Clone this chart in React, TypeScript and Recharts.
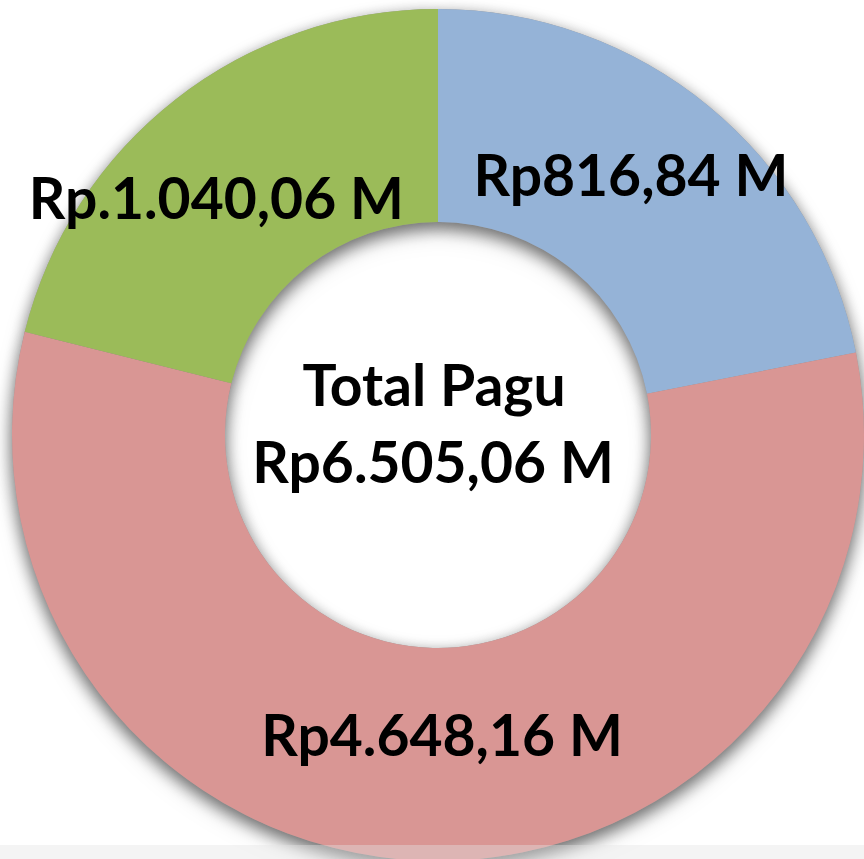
import React from 'react';
import { PieChart, Pie, Cell } from 'recharts';

const segments = ['Biru', 'Merah', 'Hijau'];
const shares = [21.9, 57.0, 21.1];
const valueLabels = ['Rp816,84 M', 'Rp4.648,16 M', 'Rp.1.040,06 M'];
const colors = ['#95b3d7', '#d99694', '#9bbb59'];
const centerLines = ['Total Pagu', 'Rp6.505,06 M'];

const data = segments.map((name, i) => ({ name, value: shares[i] }));

// small nudges so labels sit where the original put them
const nudge = [
  [-10, -14],
  [12, -20],
  [-25, 14],
];

const RADIAN = Math.PI / 180;
const FONT = 'Lato, "Open Sans", sans-serif';

const renderLabel = (props: any) => {
  const { cx, cy, midAngle, innerRadius, outerRadius, index } = props;
  const r = (innerRadius + outerRadius) / 2;
  const x = cx + r * Math.cos(-midAngle * RADIAN) + nudge[index][0];
  const y = cy + r * Math.sin(-midAngle * RADIAN) + nudge[index][1];
  return (
    <text
      x={x}
      y={y}
      textAnchor="middle"
      dominantBaseline="central"
      fontFamily={FONT}
      fontWeight={700}
      fontSize={57}
      fill="#000"
    >
      {valueLabels[index]}
    </text>
  );
};

export default function App() {
  return (
    <div style={{ position: 'absolute', top: 0, left: 0, width: 864, height: 859, overflow: 'hidden', background: '#fff' }}>
      <style>{`.donut-shadow { filter: drop-shadow(0px 6px 8px rgba(0,0,0,0.35)); }`}</style>
      <PieChart width={864} height={859} margin={{ top: 0, right: 0, bottom: 0, left: 0 }}>
        {/* same ring underneath, only to cast the soft shadow */}
        <Pie
          data={data}
          dataKey="value"
          className="donut-shadow"
          cx={438}
          cy={435}
          innerRadius={213}
          outerRadius={426}
          startAngle={90}
          endAngle={-270}
          stroke="none"
          fill="#999"
          isAnimationActive={false}
        />
        <Pie
          data={data}
          dataKey="value"
          cx={438}
          cy={435}
          innerRadius={213}
          outerRadius={426}
          startAngle={90}
          endAngle={-270}
          stroke="none"
          labelLine={false}
          label={renderLabel}
          isAnimationActive={false}
        >
          {data.map((d, i) => (
            <Cell key={d.name} fill={colors[i]} />
          ))}
        </Pie>
        <text x={434} y={384} textAnchor="middle" dominantBaseline="central" fontFamily={FONT} fontWeight={700} fontSize={57} fill="#000">
          {centerLines[0]}
        </text>
        <text x={433} y={461} textAnchor="middle" dominantBaseline="central" fontFamily={FONT} fontWeight={700} fontSize={57} fill="#000">
          {centerLines[1]}
        </text>
      </PieChart>
      <div style={{ position: 'absolute', left: 0, top: 845, width: 864, height: 14, background: 'rgba(227,227,227,0.4)' }} />
    </div>
  );
}
